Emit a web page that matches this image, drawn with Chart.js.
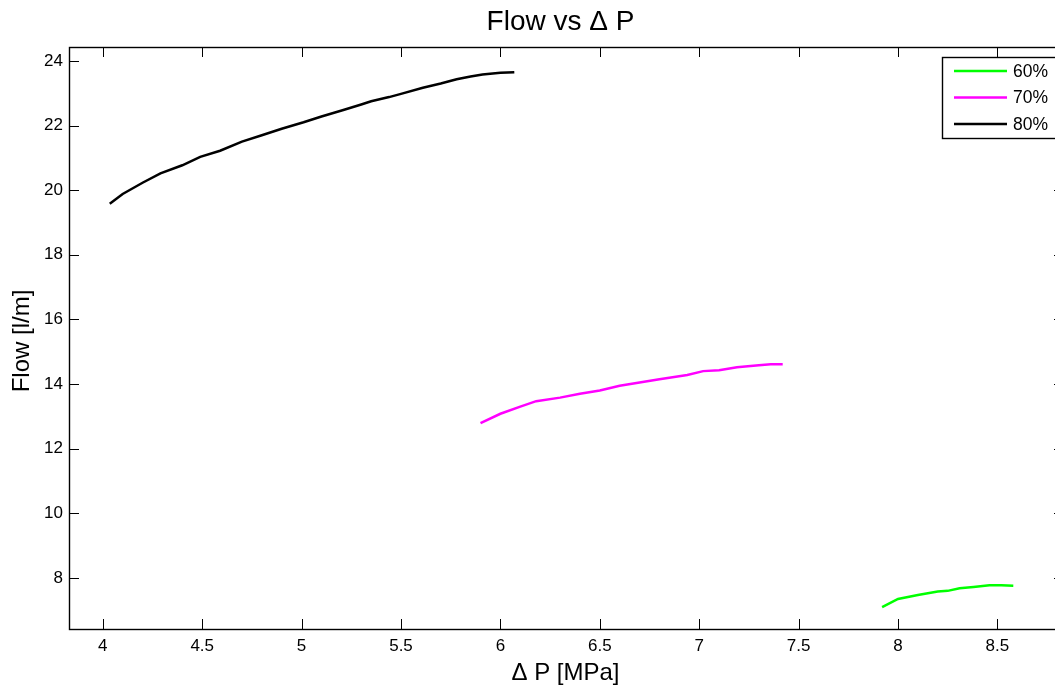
<!DOCTYPE html>
<html>
<head>
<meta charset="utf-8">
<script src="https://cdn.jsdelivr.net/npm/chart.js@4/dist/chart.umd.min.js"></script>
<style>
  html, body { margin: 0; padding: 0; background: #fff; overflow: hidden; }
  #wrap { width: 1070px; height: 687px; }
</style>
</head>
<body>
<div id="wrap"><canvas id="flowChart"></canvas></div>
<script>
const seriesLabels = ['60%', '70%', '80%'];
const seriesColors = ['#00ff00', '#ff00ff', '#000000'];

const dp60 = [7.92, 8.0, 8.1, 8.2, 8.25, 8.31, 8.38, 8.46, 8.52, 8.58];
const flow60 = [7.10, 7.35, 7.47, 7.58, 7.60, 7.68, 7.72, 7.77, 7.77, 7.76];

const dp70 = [5.9, 6.0, 6.1, 6.18, 6.3, 6.4, 6.5, 6.6, 6.7, 6.8, 6.94, 7.02, 7.1, 7.19, 7.3, 7.36, 7.42];
const flow70 = [12.79, 13.08, 13.3, 13.47, 13.58, 13.7, 13.8, 13.95, 14.05, 14.15, 14.28, 14.4, 14.43, 14.52, 14.58, 14.61, 14.61];

const dp80 = [4.035, 4.1, 4.2, 4.29, 4.4, 4.49, 4.59, 4.7, 4.8, 4.9, 5.01, 5.1, 5.21, 5.3, 5.35, 5.44, 5.5, 5.61, 5.7, 5.78, 5.85, 5.91, 6.0, 6.07];
const flow80 = [19.58, 19.88, 20.23, 20.52, 20.77, 21.03, 21.22, 21.5, 21.7, 21.9, 22.1, 22.28, 22.48, 22.65, 22.75, 22.88, 22.98, 23.17, 23.3, 23.43, 23.52, 23.58, 23.63, 23.65];

const xTicks = [4, 4.5, 5, 5.5, 6, 6.5, 7, 7.5, 8, 8.5];
const yTicks = [8, 10, 12, 14, 16, 18, 20, 22, 24];

const chartTitle = 'Flow vs \u0394 P';
const xTitle = '\u0394 P [MPa]';
const yTitle = 'Flow [l/m]';

const FONT = '"Liberation Sans", Arial, sans-serif';

function toPoints(xs, ys) {
    return xs.map((x, i) => ({ x: x, y: ys[i] }));
}

// frame, inward ticks, titles and boxed legend, matlab style
const matlabStyle = {
    id: 'matlabStyle',
    afterDraw(chart) {
        const ctx = chart.ctx;
        const a = chart.chartArea;
        const xs = chart.scales.x;
        const ys = chart.scales.y;
        const tl = 10;
        ctx.save();
        ctx.strokeStyle = '#000';
        ctx.lineWidth = 1.4;
        ctx.strokeRect(a.left + 0.5, a.top + 0.5, a.right - a.left, a.bottom - a.top);
        ctx.lineWidth = 1;
        ctx.beginPath();
        xTicks.forEach(v => {
            const px = Math.round(xs.getPixelForValue(v)) + 0.5;
            ctx.moveTo(px, a.bottom);
            ctx.lineTo(px, a.bottom - tl);
            ctx.moveTo(px, a.top);
            ctx.lineTo(px, a.top + tl);
        });
        yTicks.forEach(v => {
            const py = Math.round(ys.getPixelForValue(v)) + 0.5;
            ctx.moveTo(a.left, py);
            ctx.lineTo(a.left + tl, py);
            ctx.moveTo(a.right, py);
            ctx.lineTo(a.right - tl, py);
        });
        ctx.stroke();

        ctx.fillStyle = '#000';
        ctx.textAlign = 'center';
        ctx.textBaseline = 'middle';
        const cx = (a.left + a.right) / 2;
        ctx.font = '28px ' + FONT;
        ctx.fillText(chartTitle, cx - 6, 22);
        ctx.font = '24px ' + FONT;
        ctx.fillText(xTitle, cx - 1, 673);
        ctx.save();
        ctx.translate(22, (a.top + a.bottom) / 2 + 3);
        ctx.rotate(-Math.PI / 2);
        ctx.fillText(yTitle, 0, 0);
        ctx.restore();

        // legend box
        const lx = 942, ly = 57, lw = 125, lh = 81;
        ctx.fillStyle = '#fff';
        ctx.fillRect(lx, ly, lw, lh);
        ctx.lineWidth = 1.4;
        ctx.strokeRect(lx + 0.5, ly + 0.5, lw, lh);
        ctx.font = '17.5px ' + FONT;
        ctx.textAlign = 'left';
        chart.data.datasets.forEach((ds, i) => {
            const ry = 71 + i * 26.5;
            ctx.strokeStyle = ds.borderColor;
            ctx.lineWidth = 2.5;
            ctx.beginPath();
            ctx.moveTo(954, ry);
            ctx.lineTo(1007, ry);
            ctx.stroke();
            ctx.fillStyle = '#000';
            ctx.fillText(ds.label, 1013, ry + 1);
        });
        ctx.restore();
    }
};

new Chart(document.getElementById('flowChart'), {
    type: 'line',
    data: {
        datasets: [
            { label: seriesLabels[0], data: toPoints(dp60, flow60), borderColor: seriesColors[0] },
            { label: seriesLabels[1], data: toPoints(dp70, flow70), borderColor: seriesColors[1] },
            { label: seriesLabels[2], data: toPoints(dp80, flow80), borderColor: seriesColors[2] }
        ]
    },
    options: {
        responsive: true,
        maintainAspectRatio: false,
        animation: false,
        layout: { padding: { top: 47, right: 6, left: 0, bottom: 0 } },
        elements: {
            line: { borderWidth: 2.5, tension: 0, fill: false },
            point: { radius: 0 }
        },
        scales: {
            x: {
                type: 'linear',
                min: 3.83,
                max: 8.835,
                grid: { display: false, drawTicks: false },
                border: { display: false },
                afterBuildTicks: (scale) => { scale.ticks = xTicks.map(v => ({ value: v })); },
                afterFit: (scale) => { scale.height = 58; },
                ticks: {
                    color: '#000',
                    padding: 7,
                    maxRotation: 0,
                    font: { family: FONT, size: 17 },
                    callback: (v) => String(v)
                }
            },
            y: {
                min: 6.42,
                max: 24.43,
                grid: { display: false, drawTicks: false },
                border: { display: false },
                afterBuildTicks: (scale) => { scale.ticks = yTicks.map(v => ({ value: v })); },
                afterFit: (scale) => { scale.width = 69; },
                ticks: {
                    color: '#000',
                    padding: 6,
                    font: { family: FONT, size: 17 },
                    callback: (v) => String(v)
                }
            }
        },
        plugins: {
            legend: { display: false },
            title: { display: false },
            tooltip: { enabled: false }
        }
    },
    plugins: [matlabStyle]
});
</script>
</body>
</html>
